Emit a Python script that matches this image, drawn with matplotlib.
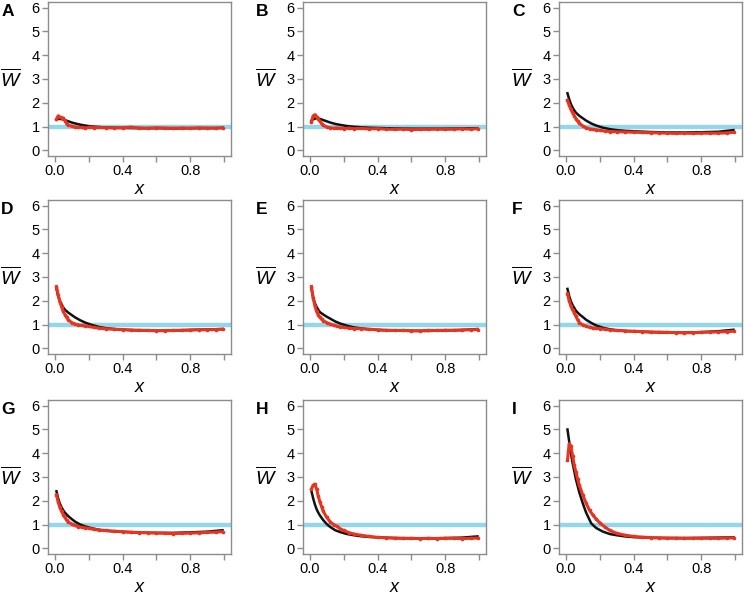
import matplotlib
matplotlib.use("Agg")
import matplotlib.pyplot as plt

plt.rcParams['font.family'] = ['Liberation Sans', 'DejaVu Sans']
plt.rcParams['mathtext.fontset'] = 'custom'
plt.rcParams['mathtext.it'] = 'Liberation Sans:italic'
plt.rcParams['mathtext.rm'] = 'Liberation Sans'

# x positions of the model (black) and simulation (red) curves
x_black = [0.01, 0.02, 0.03, 0.04, 0.05, 0.06, 0.08, 0.1, 0.12, 0.15, 0.18,
           0.22, 0.26, 0.3, 0.35, 0.4, 0.5, 0.6, 0.7, 0.8, 0.9, 0.99]
x_red = [0.01, 0.02, 0.03, 0.04, 0.05, 0.06, 0.07, 0.08, 0.1, 0.12, 0.14,
         0.16, 0.18, 0.2, 0.23, 0.26, 0.3, 0.35, 0.4, 0.45, 0.5, 0.55, 0.6,
         0.65, 0.7, 0.75, 0.8, 0.85, 0.9, 0.95, 0.99]

panels = ['A', 'B', 'C', 'D', 'E', 'F', 'G', 'H', 'I']

black_A = [1.30, 1.32, 1.32, 1.31, 1.30, 1.27, 1.22, 1.17, 1.13, 1.08, 1.04,
           1.00, 0.98, 0.96, 0.95, 0.94, 0.93, 0.93, 0.92, 0.93, 0.93, 0.94]
red_A = [1.30, 1.45, 1.40, 1.38, 1.35, 1.25, 1.12, 1.05, 1.02, 0.98, 0.97,
         0.96, 0.93, 0.97, 0.95, 0.96, 0.95, 0.94, 0.95, 0.97, 0.94, 0.93,
         0.95, 0.94, 0.93, 0.94, 0.93, 0.95, 0.94, 0.93, 0.95]

black_B = [1.25, 1.30, 1.33, 1.35, 1.34, 1.32, 1.27, 1.22, 1.17, 1.11, 1.07,
           1.02, 0.99, 0.97, 0.95, 0.94, 0.92, 0.91, 0.91, 0.91, 0.92, 0.93]
red_B = [1.20, 1.45, 1.50, 1.40, 1.32, 1.22, 1.12, 1.05, 0.98, 0.95, 0.93,
         0.94, 0.92, 0.91, 0.93, 0.91, 0.92, 0.90, 0.91, 0.89, 0.88, 0.89,
         0.87, 0.88, 0.88, 0.89, 0.88, 0.89, 0.90, 0.89, 0.91]

black_C = [2.40, 2.15, 1.95, 1.80, 1.68, 1.58, 1.45, 1.35, 1.25, 1.13, 1.04,
           0.95, 0.89, 0.85, 0.82, 0.80, 0.77, 0.75, 0.75, 0.76, 0.78, 0.85]
red_C = [2.10, 1.90, 1.72, 1.58, 1.45, 1.33, 1.22, 1.14, 1.02, 0.95, 0.90,
         0.88, 0.86, 0.84, 0.81, 0.79, 0.78, 0.77, 0.76, 0.75, 0.74, 0.73,
         0.72, 0.71, 0.72, 0.71, 0.72, 0.72, 0.72, 0.73, 0.76]

black_D = [2.50, 2.20, 2.00, 1.85, 1.72, 1.62, 1.50, 1.40, 1.30, 1.18, 1.08,
           0.98, 0.90, 0.85, 0.81, 0.78, 0.75, 0.74, 0.75, 0.77, 0.79, 0.81]
red_D = [2.60, 2.25, 1.95, 1.75, 1.55, 1.42, 1.30, 1.20, 1.08, 1.02, 0.98,
         0.96, 0.94, 0.92, 0.88, 0.85, 0.82, 0.80, 0.79, 0.77, 0.76, 0.75,
         0.74, 0.74, 0.75, 0.76, 0.77, 0.78, 0.78, 0.79, 0.80]

black_E = [2.50, 2.15, 1.90, 1.75, 1.62, 1.52, 1.42, 1.33, 1.25, 1.13, 1.04,
           0.95, 0.88, 0.84, 0.80, 0.77, 0.75, 0.73, 0.73, 0.75, 0.77, 0.81]
red_E = [2.60, 2.10, 1.80, 1.55, 1.40, 1.30, 1.22, 1.16, 1.08, 1.02, 0.97,
         0.93, 0.90, 0.88, 0.85, 0.83, 0.82, 0.80, 0.78, 0.76, 0.75, 0.75,
         0.74, 0.74, 0.75, 0.75, 0.76, 0.76, 0.77, 0.78, 0.79]

black_F = [2.50, 2.20, 1.98, 1.82, 1.70, 1.58, 1.43, 1.32, 1.20, 1.07, 0.96,
           0.86, 0.80, 0.76, 0.73, 0.71, 0.68, 0.66, 0.66, 0.68, 0.72, 0.78]
red_F = [2.30, 2.00, 1.78, 1.62, 1.50, 1.35, 1.20, 1.08, 0.98, 0.93, 0.88,
         0.85, 0.84, 0.83, 0.80, 0.77, 0.75, 0.73, 0.72, 0.70, 0.69, 0.68,
         0.67, 0.66, 0.65, 0.66, 0.67, 0.68, 0.69, 0.70, 0.72]

black_G = [2.40, 2.10, 1.88, 1.72, 1.60, 1.50, 1.35, 1.23, 1.12, 1.00, 0.92,
           0.84, 0.78, 0.74, 0.71, 0.69, 0.66, 0.65, 0.65, 0.67, 0.70, 0.76]
red_G = [2.25, 1.95, 1.72, 1.55, 1.42, 1.30, 1.18, 1.10, 1.02, 0.96, 0.91,
         0.88, 0.86, 0.84, 0.80, 0.77, 0.75, 0.72, 0.70, 0.68, 0.66, 0.65,
         0.64, 0.63, 0.62, 0.63, 0.64, 0.65, 0.67, 0.68, 0.70]

black_H = [2.40, 2.10, 1.85, 1.65, 1.50, 1.38, 1.18, 1.02, 0.90, 0.76, 0.68,
           0.60, 0.55, 0.51, 0.48, 0.46, 0.43, 0.42, 0.42, 0.43, 0.45, 0.50]
red_H = [2.50, 2.65, 2.70, 2.50, 2.20, 1.95, 1.75, 1.55, 1.30, 1.12, 1.00,
         0.92, 0.82, 0.75, 0.66, 0.60, 0.55, 0.50, 0.46, 0.44, 0.43, 0.42,
         0.42, 0.41, 0.42, 0.41, 0.42, 0.42, 0.41, 0.42, 0.43]

black_I = [5.00, 4.50, 4.00, 3.60, 3.25, 2.90, 2.35, 1.90, 1.50, 1.05, 0.85,
           0.70, 0.60, 0.55, 0.50, 0.47, 0.44, 0.43, 0.43, 0.44, 0.45, 0.46]
red_I = [3.70, 4.40, 4.30, 3.90, 3.50, 3.20, 2.90, 2.65, 2.25, 1.90, 1.60,
         1.40, 1.22, 1.08, 0.90, 0.75, 0.63, 0.55, 0.50, 0.47, 0.45, 0.44,
         0.43, 0.43, 0.42, 0.42, 0.42, 0.42, 0.42, 0.43, 0.44]

black_all = [black_A, black_B, black_C, black_D, black_E, black_F, black_G, black_H, black_I]
red_all = [red_A, red_B, red_C, red_D, red_E, red_F, red_G, red_H, red_I]

W, H = 747, 595
fig = plt.figure(figsize=(W / 100, H / 100), dpi=100)

col_left = [48, 303, 559]
row_top = [2, 200, 400]
ax_w, ax_h = 183, 154
grey = '#8c8c8c'

for i, name in enumerate(panels):
    r, c = divmod(i, 3)
    left = col_left[c] / W
    bottom = 1 - (row_top[r] + ax_h) / H
    ax = fig.add_axes([left, bottom, ax_w / W, ax_h / H])

    ax.axhline(1, color='#94d7ea', lw=3.2, zorder=1)
    ax.plot(x_black, black_all[i], color='#111111', lw=1.8, zorder=2)
    ax.plot(x_red, red_all[i], color='#e8331f', lw=2.2, marker='o',
            markersize=1.6, zorder=3)

    ax.set_xlim(-0.04, 1.04)
    ax.set_ylim(-0.24, 6.24)
    ax.set_yticks(range(7))
    ax.set_xticks([0, 0.2, 0.4, 0.6, 0.8, 1.0])
    ax.set_xticklabels(['0.0', '', '0.4', '', '0.8', ''])
    for s in ax.spines.values():
        s.set_color(grey)
        s.set_linewidth(1.0)
    ax.tick_params(colors=grey, labelcolor='black', labelsize=10.5,
                   length=4, width=1, pad=2)

    ax.text(-0.205, 0.5, r'$\overline{W}$', transform=ax.transAxes,
            ha='center', va='center', fontsize=14)
    ax.text(0.5, -0.215, 'x', style='italic', transform=ax.transAxes,
            ha='center', va='center', fontsize=13)
    ax.text(-0.255, 0.99, name, transform=ax.transAxes, ha='left', va='top',
            fontsize=12.5, fontweight='bold')

fig.savefig('out.png', dpi=100)
